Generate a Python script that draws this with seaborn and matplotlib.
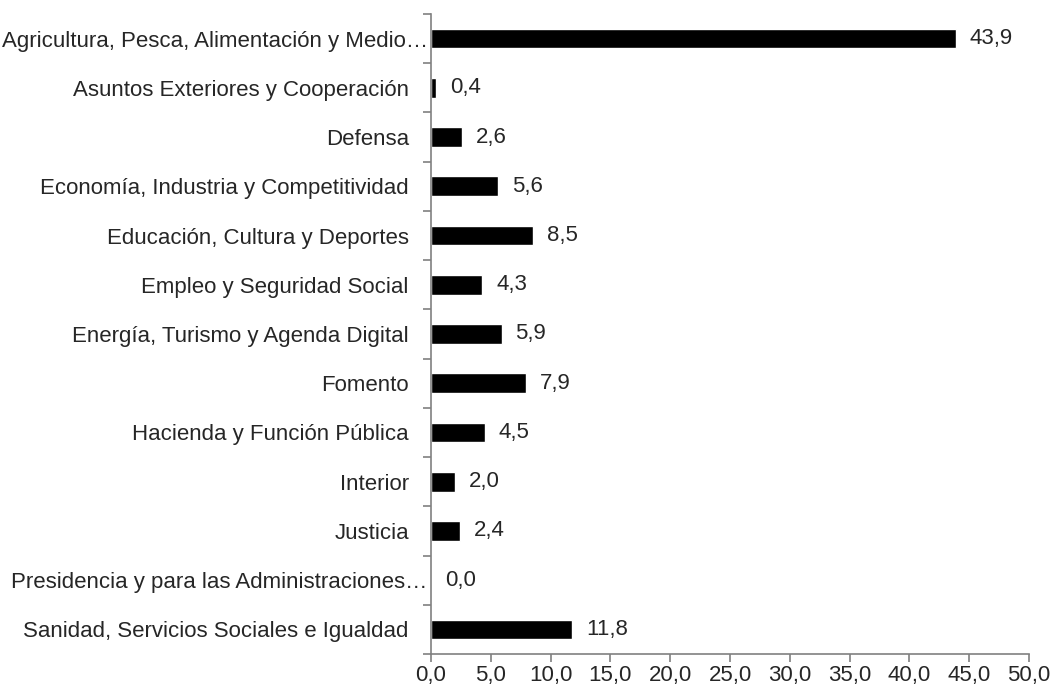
"""Horizontal bar chart by ministry, recreated with seaborn."""

import matplotlib

matplotlib.use("Agg")
import matplotlib.pyplot as plt
import matplotlib.transforms as mtransforms
import numpy as np
import pandas as pd
import seaborn as sns
from matplotlib.ticker import FixedLocator, FuncFormatter

categories = [
    "Agricultura, Pesca, Alimentación y Medio…",
    "Asuntos Exteriores y Cooperación",
    "Defensa",
    "Economía, Industria y Competitividad",
    "Educación, Cultura y Deportes",
    "Empleo y Seguridad Social",
    "Energía, Turismo y Agenda Digital",
    "Fomento",
    "Hacienda y Función Pública",
    "Interior",
    "Justicia",
    "Presidencia y para las Administraciones…",
    "Sanidad, Servicios Sociales e Igualdad",
]
values = [43.9, 0.4, 2.6, 5.6, 8.5, 4.3, 5.9, 7.9, 4.5, 2.0, 2.4, 0.0, 11.8]
x_ticks = [0, 5, 10, 15, 20, 25, 30, 35, 40, 45, 50]


def comma(v, _pos=None):
    return f"{v:.1f}".replace(".", ",")


df = pd.DataFrame({"ministerio": categories, "valor": values})

sns.set_style("white")
plt.rcParams["font.family"] = ["Liberation Sans", "DejaVu Sans"]
FS = 16

fig = plt.figure(figsize=(10.5, 6.88), dpi=100)
ax = fig.add_axes([0.4105, 0.0494, 0.5695, 0.9303])

sns.barplot(data=df, x="valor", y="ministerio", orient="h", color="black",
            width=0.4, saturation=1, ax=ax)

# value labels to the right of each bar
for i, v in enumerate(values):
    ax.annotate(comma(v), (v, i), xytext=(10, 0), textcoords="offset points",
                ha="left", va="center", fontsize=FS)

ax.set_xlim(0, 50)
ax.set_ylim(len(categories) - 0.5, -0.5)
ax.xaxis.set_major_locator(FixedLocator(x_ticks))
ax.xaxis.set_major_formatter(FuncFormatter(comma))
ax.set_xlabel("")
ax.set_ylabel("")

# category tick marks sit between the bars
ax.yaxis.set_minor_locator(FixedLocator(np.arange(-0.5, len(categories), 1)))
ax.tick_params(axis="y", which="major", length=0, pad=16, labelsize=FS)
ax.tick_params(axis="y", which="minor", length=6, width=1.2, color="#808080",
               direction="out", left=True)
ax.tick_params(axis="x", which="major", length=6, width=1.2, color="#808080",
               direction="out", bottom=True, labelsize=FS, pad=2)

# truncated labels run closer to the axis, as in the original
shift = mtransforms.ScaledTranslation(0.19, 0, fig.dpi_scale_trans)
for lab in ax.get_yticklabels():
    if lab.get_text().endswith("…"):
        lab.set_transform(lab.get_transform() + shift)

for side in ["top", "right"]:
    ax.spines[side].set_visible(False)
for side in ["left", "bottom"]:
    ax.spines[side].set_color("#808080")
    ax.spines[side].set_linewidth(1.2)

fig.savefig("out.png", dpi=100)
